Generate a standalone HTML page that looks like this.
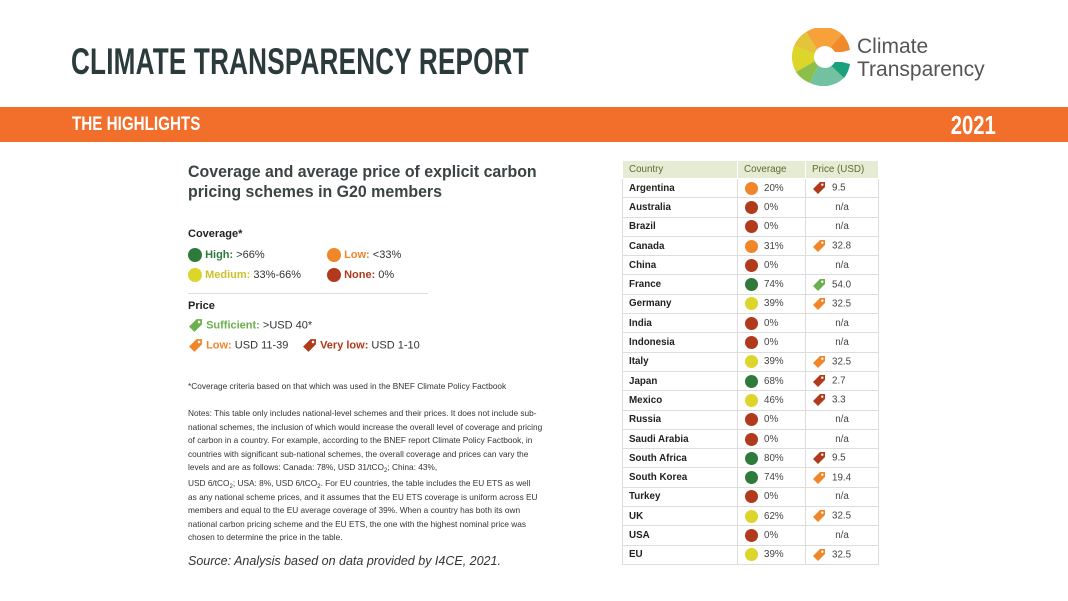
<!DOCTYPE html>
<html><head><meta charset="utf-8"><style>
*{margin:0;padding:0;box-sizing:border-box}
body{width:1068px;height:601px;background:#fff;position:relative;overflow:hidden;font-family:"Liberation Sans",sans-serif;color:#333}
.abs{position:absolute;white-space:nowrap}
.title{left:71px;top:41px;font-size:37px;font-weight:bold;color:#2b3a3a;transform:scaleX(0.705);transform-origin:left top;letter-spacing:0.3px}
.band{left:0;top:107px;width:1068px;height:35px;background:#f26f2b}
.hl{left:72px;top:114px;font-size:19px;font-weight:bold;color:#fff;transform:scaleX(0.8);transform-origin:left top}
.yr{right:72px;top:110px;font-size:26px;font-weight:bold;color:#fff;transform:scaleX(0.78);transform-origin:right top}
.h2{left:188px;top:162px;font-size:16.5px;font-weight:bold;color:#3a4444;line-height:20px;transform:scaleX(0.965);transform-origin:left top}
.lab{font-size:11px;font-weight:bold;color:#222}
.leg{font-size:11px;color:#333}
.dot{display:inline-block;width:14px;height:14px;border-radius:50%;vertical-align:middle}
.note{left:188px;font-size:8.3px;color:#333;line-height:10px}
sub{font-size:6px;vertical-align:-2px;line-height:0}
table{position:absolute;left:622px;top:160px;border-collapse:collapse;font-size:9.8px}
td{border:1px solid #ddd;height:19.3px;padding:0}
tr.h td{background:#e6ecd4;color:#5d6b2e;height:18px;border-color:#fff}
td.c{width:115px;padding-left:6px;font-weight:bold;color:#222}
td.v{width:68px;padding-left:6px;color:#444}
td.p{width:73px;padding-left:6px;color:#444}
td.v .dot{width:13px;height:13px;margin-right:6px;margin-left:1px}
td.p svg{vertical-align:middle;margin-right:6px}
td.na{text-align:center;padding-left:0;padding-right:0}
</style></head><body>
<div class="abs title">CLIMATE TRANSPARENCY REPORT</div>
<svg class="abs" style="left:792px;top:28px" width="60" height="58" viewBox="0 0 60 58">
<path d="M30 29 L14 4 A30 30 0 0 1 50 6 Z" fill="#f6a13a"/>
<path d="M30 29 L50 6 A30 30 0 0 1 58 22 Z" fill="#f08a2a"/>
<path d="M30 29 L2 18 A30 30 0 0 1 14 4 Z" fill="#e3c43a"/>
<path d="M30 29 L4 44 A30 30 0 0 1 2 18 Z" fill="#dcd52a"/>
<path d="M30 29 L18 55 A30 30 0 0 1 4 44 Z" fill="#8cbf4a"/>
<path d="M30 29 L52 50 A30 30 0 0 1 18 55 Z" fill="#72c1a0"/>
<path d="M30 29 L58 36 A30 30 0 0 1 52 50 Z" fill="#1aa07a"/>
<circle cx="33" cy="29" r="11" fill="#fff"/>
<rect x="40" y="24" width="20" height="10" fill="#fff"/>
</svg>
<div class="abs" style="left:857px;top:35px;font-size:21px;color:#555;line-height:23px">Climate<br>Transparency</div>
<div class="abs band"></div>
<div class="abs hl">THE HIGHLIGHTS</div>
<div class="abs yr">2021</div>
<div class="abs h2">Coverage and average price of explicit carbon<br>pricing schemes in G20 members</div>

<div class="abs lab" style="left:188px;top:228px">Coverage*</div>
<div class="abs leg" style="left:188px;top:248px"><span class="dot" style="background:#2e7a3a"></span> <b style="color:#2e7a3a">High:</b> &gt;66%</div>
<div class="abs leg" style="left:188px;top:268px"><span class="dot" style="background:#dcd52a"></span> <b style="color:#c9c22a">Medium:</b> 33%-66%</div>
<div class="abs leg" style="left:327px;top:248px"><span class="dot" style="background:#f0862a"></span> <b style="color:#f0862a">Low:</b> &lt;33%</div>
<div class="abs leg" style="left:327px;top:268px"><span class="dot" style="background:#b23a1c"></span> <b style="color:#b23a1c">None:</b> 0%</div>
<div class="abs" style="left:188px;top:293px;width:240px;height:1px;background:#ddd"></div>
<div class="abs lab" style="left:188px;top:300px">Price</div>
<div class="abs leg" style="left:188px;top:318px"><svg width="15" height="15" viewBox="0 0 14 14" style="vertical-align:middle"><path d="M8 1 H13 V6 L6 13 L1 8 Z" fill="#6ab04c"/><circle cx="10.3" cy="3.7" r="1.2" fill="#fff"/></svg> <b style="color:#6ab04c">Sufficient:</b> &gt;USD 40*</div>
<div class="abs leg" style="left:188px;top:338px"><svg width="15" height="15" viewBox="0 0 14 14" style="vertical-align:middle"><path d="M8 1 H13 V6 L6 13 L1 8 Z" fill="#f0862a"/><circle cx="10.3" cy="3.7" r="1.2" fill="#fff"/></svg> <b style="color:#f0862a">Low:</b> USD 11-39</div>
<div class="abs leg" style="left:302px;top:338px"><svg width="15" height="15" viewBox="0 0 14 14" style="vertical-align:middle"><path d="M8 1 H13 V6 L6 13 L1 8 Z" fill="#b23a1c"/><circle cx="10.3" cy="3.7" r="1.2" fill="#fff"/></svg> <b style="color:#b23a1c">Very low:</b> USD 1-10</div>

<div class="abs note" style="top:381px">*Coverage criteria based on that which was used in the BNEF Climate Policy Factbook</div>
<div class="abs note" style="top:408px">Notes: This table only includes national-level schemes and their prices. It does not include sub-</div>
<div class="abs note" style="top:421.5px">national schemes, the inclusion of which would increase the overall level of coverage and pricing</div>
<div class="abs note" style="top:435px">of carbon in a country. For example, according to the BNEF report Climate Policy Factbook, in</div>
<div class="abs note" style="top:448.5px">countries with significant sub-national schemes, the overall coverage and prices can vary the</div>
<div class="abs note" style="top:462px">levels and are as follows: Canada: 78%, USD 31/tCO<sub>2</sub>; China: 43%,</div>
<div class="abs note" style="top:478px">USD 6/tCO<sub>2</sub>; USA: 8%, USD 6/tCO<sub>2</sub>. For EU countries, the table includes the EU ETS as well</div>
<div class="abs note" style="top:491.5px">as any national scheme prices, and it assumes that the EU ETS coverage is uniform across EU</div>
<div class="abs note" style="top:505px">members and equal to the EU average coverage of 39%. When a country has both its own</div>
<div class="abs note" style="top:518.5px">national carbon pricing scheme and the EU ETS, the one with the highest nominal price was</div>
<div class="abs note" style="top:532px">chosen to determine the price in the table.</div>
<div class="abs" style="left:188px;top:554px;font-size:12.5px;font-style:italic;color:#333">Source: Analysis based on data provided by I4CE, 2021.</div>

<table>
<tr class="h"><td class="c" style="font-weight:normal;color:#5d6b2e">Country</td><td class="v" style="color:#5d6b2e">Coverage</td><td class="p" style="color:#5d6b2e">Price (USD)</td></tr>
<tr><td class="c">Argentina</td><td class="v"><span class="dot" style="background:#f0862a"></span>20%</td><td class="p"><svg width="14" height="14" viewBox="0 0 14 14"><path d="M8 1 H13 V6 L6 13 L1 8 Z" fill="#b23a1c"/><circle cx="10.3" cy="3.7" r="1.2" fill="#fff"/></svg>9.5</td></tr>
<tr><td class="c">Australia</td><td class="v"><span class="dot" style="background:#b23a1c"></span>0%</td><td class="p na">n/a</td></tr>
<tr><td class="c">Brazil</td><td class="v"><span class="dot" style="background:#b23a1c"></span>0%</td><td class="p na">n/a</td></tr>
<tr><td class="c">Canada</td><td class="v"><span class="dot" style="background:#f0862a"></span>31%</td><td class="p"><svg width="14" height="14" viewBox="0 0 14 14"><path d="M8 1 H13 V6 L6 13 L1 8 Z" fill="#f0862a"/><circle cx="10.3" cy="3.7" r="1.2" fill="#fff"/></svg>32.8</td></tr>
<tr><td class="c">China</td><td class="v"><span class="dot" style="background:#b23a1c"></span>0%</td><td class="p na">n/a</td></tr>
<tr><td class="c">France</td><td class="v"><span class="dot" style="background:#2e7a3a"></span>74%</td><td class="p"><svg width="14" height="14" viewBox="0 0 14 14"><path d="M8 1 H13 V6 L6 13 L1 8 Z" fill="#6ab04c"/><circle cx="10.3" cy="3.7" r="1.2" fill="#fff"/></svg>54.0</td></tr>
<tr><td class="c">Germany</td><td class="v"><span class="dot" style="background:#dcd52a"></span>39%</td><td class="p"><svg width="14" height="14" viewBox="0 0 14 14"><path d="M8 1 H13 V6 L6 13 L1 8 Z" fill="#f0862a"/><circle cx="10.3" cy="3.7" r="1.2" fill="#fff"/></svg>32.5</td></tr>
<tr><td class="c">India</td><td class="v"><span class="dot" style="background:#b23a1c"></span>0%</td><td class="p na">n/a</td></tr>
<tr><td class="c">Indonesia</td><td class="v"><span class="dot" style="background:#b23a1c"></span>0%</td><td class="p na">n/a</td></tr>
<tr><td class="c">Italy</td><td class="v"><span class="dot" style="background:#dcd52a"></span>39%</td><td class="p"><svg width="14" height="14" viewBox="0 0 14 14"><path d="M8 1 H13 V6 L6 13 L1 8 Z" fill="#f0862a"/><circle cx="10.3" cy="3.7" r="1.2" fill="#fff"/></svg>32.5</td></tr>
<tr><td class="c">Japan</td><td class="v"><span class="dot" style="background:#2e7a3a"></span>68%</td><td class="p"><svg width="14" height="14" viewBox="0 0 14 14"><path d="M8 1 H13 V6 L6 13 L1 8 Z" fill="#b23a1c"/><circle cx="10.3" cy="3.7" r="1.2" fill="#fff"/></svg>2.7</td></tr>
<tr><td class="c">Mexico</td><td class="v"><span class="dot" style="background:#dcd52a"></span>46%</td><td class="p"><svg width="14" height="14" viewBox="0 0 14 14"><path d="M8 1 H13 V6 L6 13 L1 8 Z" fill="#b23a1c"/><circle cx="10.3" cy="3.7" r="1.2" fill="#fff"/></svg>3.3</td></tr>
<tr><td class="c">Russia</td><td class="v"><span class="dot" style="background:#b23a1c"></span>0%</td><td class="p na">n/a</td></tr>
<tr><td class="c">Saudi Arabia</td><td class="v"><span class="dot" style="background:#b23a1c"></span>0%</td><td class="p na">n/a</td></tr>
<tr><td class="c">South Africa</td><td class="v"><span class="dot" style="background:#2e7a3a"></span>80%</td><td class="p"><svg width="14" height="14" viewBox="0 0 14 14"><path d="M8 1 H13 V6 L6 13 L1 8 Z" fill="#b23a1c"/><circle cx="10.3" cy="3.7" r="1.2" fill="#fff"/></svg>9.5</td></tr>
<tr><td class="c">South Korea</td><td class="v"><span class="dot" style="background:#2e7a3a"></span>74%</td><td class="p"><svg width="14" height="14" viewBox="0 0 14 14"><path d="M8 1 H13 V6 L6 13 L1 8 Z" fill="#f0862a"/><circle cx="10.3" cy="3.7" r="1.2" fill="#fff"/></svg>19.4</td></tr>
<tr><td class="c">Turkey</td><td class="v"><span class="dot" style="background:#b23a1c"></span>0%</td><td class="p na">n/a</td></tr>
<tr><td class="c">UK</td><td class="v"><span class="dot" style="background:#dcd52a"></span>62%</td><td class="p"><svg width="14" height="14" viewBox="0 0 14 14"><path d="M8 1 H13 V6 L6 13 L1 8 Z" fill="#f0862a"/><circle cx="10.3" cy="3.7" r="1.2" fill="#fff"/></svg>32.5</td></tr>
<tr><td class="c">USA</td><td class="v"><span class="dot" style="background:#b23a1c"></span>0%</td><td class="p na">n/a</td></tr>
<tr><td class="c">EU</td><td class="v"><span class="dot" style="background:#dcd52a"></span>39%</td><td class="p"><svg width="14" height="14" viewBox="0 0 14 14"><path d="M8 1 H13 V6 L6 13 L1 8 Z" fill="#f0862a"/><circle cx="10.3" cy="3.7" r="1.2" fill="#fff"/></svg>32.5</td></tr>
</table>
</body></html>
